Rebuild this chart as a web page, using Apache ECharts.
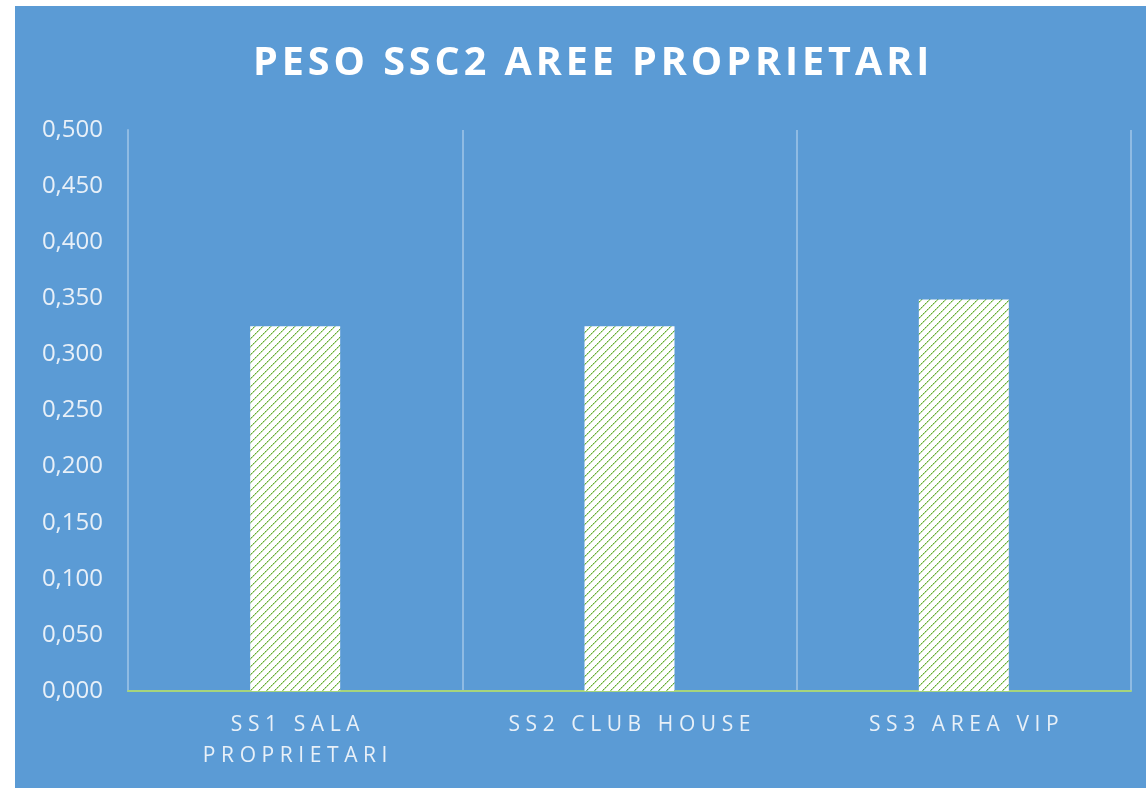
<!DOCTYPE html>
<html>
<head>
<meta charset="utf-8">
<script src="https://cdn.jsdelivr.net/npm/echarts@6/dist/echarts.min.js"></script>
<style>
  html, body { margin: 0; padding: 0; background: #ffffff; }
  #chart { position: absolute; left: 15px; top: 6px; width: 1131px; height: 782px; }
</style>
</head>
<body>
<div id="chart"></div>
<script>
// dati
const categories = ['SS1 SALA PROPRIETARI', 'SS2 CLUB HOUSE', 'SS3 AREA VIP']
const pesi = [0.325, 0.325, 0.349]
const yMin = 0
const yMax = 0.5
const yStep = 0.05

// trama a righe diagonali verdi (come il riempimento di Excel)
const makeHatch = () => {
  const n = 8
  const c = document.createElement('canvas')
  c.width = n
  c.height = n
  const ctx = c.getContext('2d')
  ctx.fillStyle = '#ffffff'
  ctx.fillRect(0, 0, n, n)
  for (let i = 0; i < n; i++) {
    ctx.fillStyle = i % 2 === 0 ? '#63a833' : '#9fcf7c'
    ctx.fillRect(i, n - 1 - i, 1, 1)
    ctx.fillStyle = '#c4e2ad'
    ctx.fillRect((i + 1) % n, n - 1 - i, 1, 1)
  }
  return c
}

// spazi sottili tra le lettere per imitare la spaziatura
const spaced = (s, sp) => s.split('').join(sp)
const gap = '\u2009\u200a'

const chart = echarts.init(document.getElementById('chart'))

chart.setOption({
  backgroundColor: '#5b9bd5',
  animation: false,
  title: {
    text: spaced('PESO SSC2 AREE PROPRIETARI', '\u200a'),
    left: 233,
    top: 33,
    textStyle: {
      color: '#ffffff',
      fontFamily: 'Open Sans',
      fontWeight: 'bold',
      fontSize: 39.5,
    },
  },
  grid: {
    left: 113,
    right: 15,
    top: 124,
    bottom: 97,
  },
  xAxis: {
    type: 'category',
    data: categories,
    axisLine: { lineStyle: { color: '#a6d47c', width: 2 } },
    axisTick: { show: false },
    splitLine: { show: true, lineStyle: { color: '#8fbbe3', width: 2 } },
    axisLabel: {
      color: '#e8f0f8',
      fontFamily: 'Open Sans',
      fontSize: 21,
      margin: 19,
      lineHeight: 31,
      formatter: (v) => {
        const words = v.split(' ')
        if (v.length > 16) {
          return spaced(words.slice(0, 2).join(' '), gap) + '\n' + spaced(words.slice(2).join(' '), gap)
        }
        return spaced(v, gap)
      },
    },
  },
  yAxis: {
    type: 'value',
    min: yMin,
    max: yMax,
    interval: yStep,
    axisLine: { show: true, lineStyle: { color: '#8fbbe3', width: 2 } },
    axisTick: { show: false },
    splitLine: { show: false },
    axisLabel: {
      color: '#e8f0f8',
      fontFamily: 'Open Sans',
      fontSize: 24,
      margin: 25,
      formatter: (v) => v.toFixed(3).replace('.', ','),
    },
  },
  series: [
    {
      type: 'bar',
      data: pesi,
      barWidth: 90,
      itemStyle: {
        color: { image: makeHatch(), repeat: 'repeat' },
      },
    },
  ],
})
</script>
</body>
</html>
